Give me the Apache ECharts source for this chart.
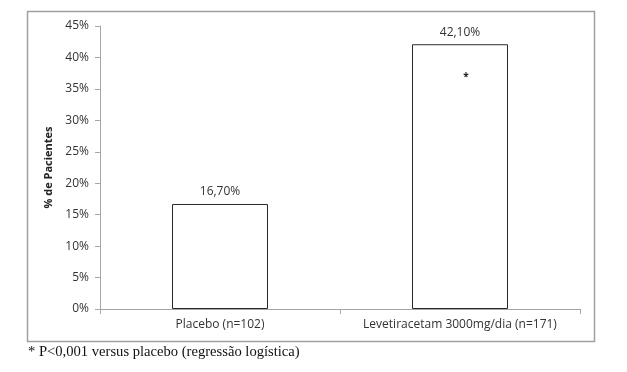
<!DOCTYPE html>
<html>
<head>
<meta charset="utf-8">
<script src="https://cdn.jsdelivr.net/npm/echarts@6/dist/echarts.min.js"></script>
<style>
html,body{margin:0;padding:0;background:#fff;}
#c{width:627px;height:372px;}
</style>
</head>
<body>
<div id="c"></div>
<script>
const categories = ['Placebo (n=102)', 'Levetiracetam 3000mg/dia (n=171)'];
const values = [16.7, 42.1];
const yTicks = { min: 0, max: 45, interval: 5 };
const yTitle = '% de Pacientes';
const footnote = '* P<0,001 versus placebo (regressão logística)';
const significance = [{ category: 1, value: 37.4, mark: '*' }];

const chart = echarts.init(document.getElementById('c'), null, { renderer: 'canvas' });
const txt = '#333';
const font = 'Open Sans';
chart.setOption({
  animation: false,
  backgroundColor: '#fff',
  grid: { left: 100, right: 47, top: 26, bottom: 63 },
  xAxis: {
    type: 'category',
    data: categories,
    axisLine: { lineStyle: { color: '#a6a6a6', width: 1 } },
    axisTick: { show: true, length: 5, interval: 0, lineStyle: { color: '#a6a6a6' } },
    axisLabel: { color: txt, fontFamily: font, fontSize: 12, margin: 10, interval: 0, hideOverlap: false }
  },
  yAxis: {
    type: 'value',
    min: yTicks.min, max: yTicks.max, interval: yTicks.interval,
    name: yTitle,
    nameLocation: 'middle',
    nameGap: 44,
    nameTextStyle: { color: '#222', fontFamily: font, fontSize: 11, fontWeight: 'bold' },
    splitLine: { show: false },
    axisLine: { show: true, lineStyle: { color: '#a6a6a6', width: 1 } },
    axisTick: { show: true, length: 5, lineStyle: { color: '#a6a6a6' } },
    axisLabel: { color: txt, fontFamily: font, fontSize: 12, margin: 11, formatter: '{value}%' }
  },
  series: [{
    type: 'bar',
    data: values,
    barWidth: '40%',
    itemStyle: { color: '#fff', borderColor: '#2a2a2a', borderWidth: 1 },
    label: {
      show: true, position: 'top', distance: 6,
      color: txt, fontFamily: font, fontSize: 12,
      formatter: p => p.value.toFixed(2).replace('.', ',') + '%'
    },
    markPoint: {
      symbol: 'circle', symbolSize: 0,
      label: { show: true, position: 'inside', offset: [6, 3], color: '#222', fontFamily: font, fontSize: 10, fontWeight: 'bold', formatter: p => p.name },
      data: significance.map(s => ({ name: s.mark, coord: [s.category, s.value] }))
    }
  }],
  graphic: [
    { type: 'rect', shape: { x: 27.5, y: 11.5, width: 567, height: 330 }, style: { fill: 'none', stroke: '#a0a0a0', lineWidth: 1.5 }, silent: true },
    { type: 'text', left: 28, top: 345, style: { text: footnote, fill: '#111', font: '14.6px "Liberation Serif"' } }
  ]
});
</script>
</body>
</html>
